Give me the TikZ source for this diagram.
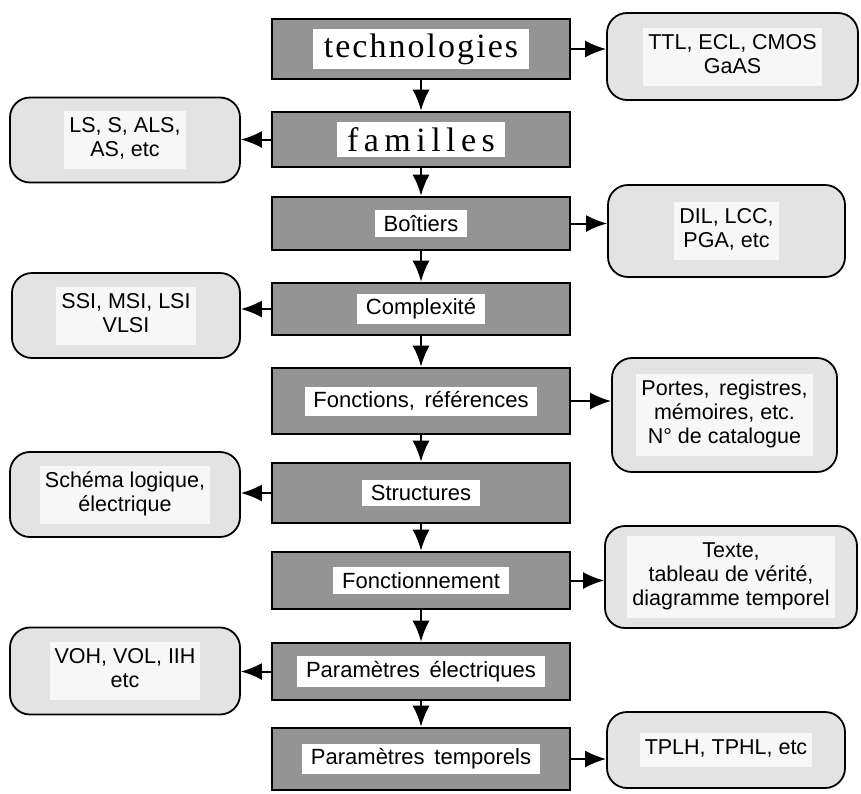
\documentclass[tikz,border=0pt]{standalone}
\usepackage{fontspec}
\setmainfont{Liberation Sans}
\newfontfamily\titlefont[LetterSpace=6]{Liberation Serif}
\usetikzlibrary{arrows.meta}
\tikzset{
  mainbox/.style={draw, line width=2.6pt, fill=black!42, minimum width=298, inner sep=0pt},
  sidebox/.style={draw, line width=1.8pt, rounded corners=20pt, fill=gray!22, inner sep=0pt},
  link/.style={line width=2pt, -{Latex[length=21pt,width=17pt]}}
}
\setlength{\fboxsep}{5pt}
\newcommand{\mainlabel}[1]{\colorbox{white}{\fontsize{22}{25}\selectfont\,#1\,}}
\newcommand{\titlelabel}[1]{\colorbox{white}{\titlefont\fontsize{34}{36}\selectfont\,#1\,}}
\newcommand{\sidelabel}[1]{\colorbox{gray!6}{\fontsize{21.5}{24}\selectfont\begin{tabular}{@{}c@{}}#1\end{tabular}}}
\begin{document}
\begin{tikzpicture}[x=1pt,y=-1pt]
  \useasboundingbox (0,0) rectangle (861,793);
  % main chain
  \node[mainbox, minimum height=60] (tech) at (421,49) {\titlelabel{technologies}};
  \node[mainbox, minimum height=55] (fam) at (421,139.5) {\titlelabel{\addfontfeature{LetterSpace=16}familles}};
  \node[mainbox, minimum height=53] (boit) at (421,223.5) {\mainlabel{Boîtiers}};
  \node[mainbox, minimum height=52] (compl) at (421,309) {\mainlabel{Complexité}};
  \node[mainbox, minimum height=66] (fonc) at (421,401) {\mainlabel{Fonctions, \,références}};
  \node[mainbox, minimum height=60] (struc) at (421,493) {\mainlabel{Structures}};
  \node[mainbox, minimum height=57] (fonct) at (421,580.5) {\mainlabel{Fonctionnement}};
  \node[mainbox, minimum height=57] (elec) at (421,671.5) {\mainlabel{Paramètres \,électriques}};
  \node[mainbox, minimum height=62] (temp) at (421,759) {\mainlabel{Paramètres \,temporels}};
  % side boxes
  \node[sidebox, minimum width=251, minimum height=87] (ttl) at (732.5,56.5) {\sidelabel{TTL, ECL, CMOS\\GaAS}};
  \node[sidebox, minimum width=230, minimum height=85] (ls) at (125,140) {\sidelabel{LS, S, ALS,\\AS, etc}};
  \node[sidebox, minimum width=237, minimum height=92] (dil) at (726.5,231) {\sidelabel{DIL, LCC,\\PGA, etc}};
  \node[sidebox, minimum width=228, minimum height=85] (ssi) at (126,315.5) {\sidelabel{SSI, MSI, LSI\\VLSI}};
  \node[sidebox, minimum width=225, minimum height=114] (port) at (724.5,415) {\sidelabel{Portes, \,registres,\\mémoires, etc.\\N° de catalogue}};
  \node[sidebox, minimum width=230, minimum height=85] (sch) at (125,494.5) {\sidelabel{Schéma logique,\\électrique}};
  \node[sidebox, minimum width=252, minimum height=102] (txt) at (731,577) {\sidelabel{Texte,\\tableau de vérité,\\diagramme temporel}};
  \node[sidebox, minimum width=230, minimum height=87] (voh) at (125,671) {\sidelabel{VOH, VOL, IIH\\etc}};
  \node[sidebox, minimum width=238, minimum height=76] (tplh) at (726,750) {\sidelabel{TPLH, TPHL, etc}};
  % arrows down the chain
  \foreach \a/\b in {tech/fam, fam/boit, boit/compl, compl/fonc, fonc/struc, struc/fonct, fonct/elec, elec/temp}
    \draw[link] (\a.south) -- (\b.north);
  % arrows to the side
  \foreach \a/\b in {tech/ttl, boit/dil, fonc/port, fonct/txt, temp/tplh}
    \draw[link] (\a.east) -- (\a.east -| \b.west);
  \foreach \a/\b in {fam/ls, compl/ssi, struc/sch, elec/voh}
    \draw[link] (\a.west) -- (\a.west -| \b.east);
\end{tikzpicture}
\end{document}
